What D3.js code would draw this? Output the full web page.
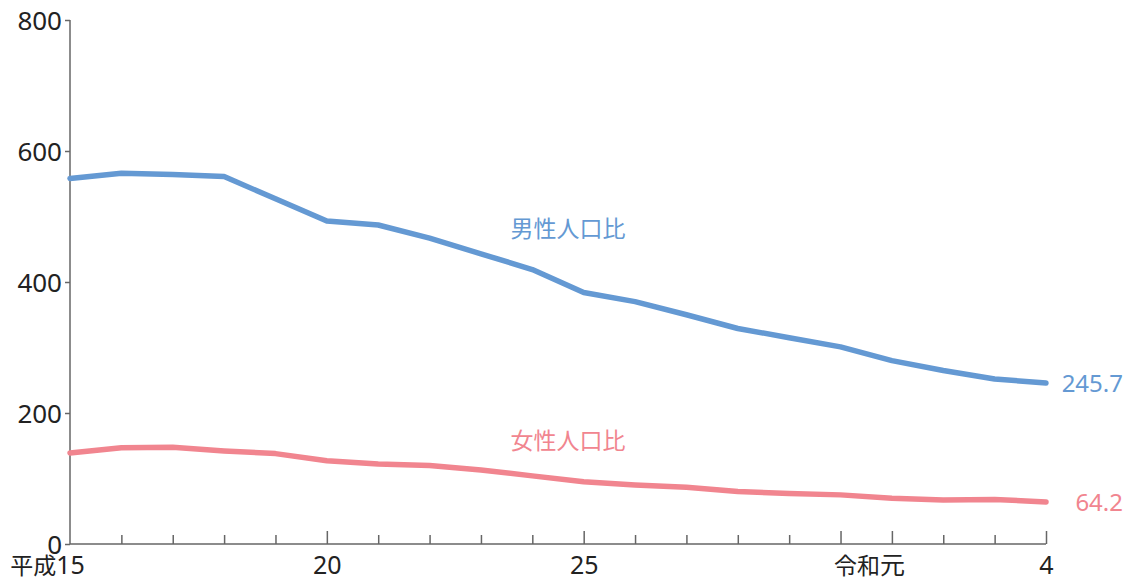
<!DOCTYPE html>
<html lang="ja">
<head>
<meta charset="UTF-8" />
<title>男性・女性人口比の推移</title>
<style>
  body { margin: 0; background: #fff; }
  svg, .axis text { font-family: "Noto Sans", "Noto Sans CJK JP", sans-serif; }
  .axis path, .axis line { stroke: #666; stroke-width: 1.5px; }
  .axis text { fill: #222; font-size: 25px; }
  .y.axis text { font-size: 26px; }
</style>
</head>
<body>
<svg width="1131" height="580"></svg>
<script src="https://cdn.jsdelivr.net/npm/d3@7"></script>
<script>
// 平成15年 〜 令和4年
const years = ["15","16","17","18","19","20","21","22","23","24","25","26","27","28","29","30","元","2","3","4"];
const eraPrefix = { "15": "平成", "元": "令和" };
const labeledYears = ["15", "20", "25", "元", "4"];
const majorTicks = ["20", "25", "30", "元", "4"];
const yTicks = [0, 200, 400, 600, 800];

const male = [558, 566, 564, 561, 527, 493, 487, 467, 443, 419, 384, 370, 350, 329, 315, 301, 280, 265, 252, 245.7];
const female = [139, 147, 147.6, 142, 138, 127, 122, 120, 113, 104, 95, 90, 86.5, 80, 77, 75, 70, 67, 68, 64.2];

const seriesNames = ["男性人口比", "女性人口比"];
const colors = ["#6499d3", "#f1858f"];

const svg = d3.select("svg");
const plotLeft = 70, plotRight = 1046, plotTop = 20, plotBottom = 544;

const x = d3.scalePoint().domain(years).range([plotLeft, plotRight]);
const y = d3.scaleLinear().domain([0, 800]).range([plotBottom, plotTop]);

// y axis
const yAxis = svg.append("g")
  .attr("class", "y axis")
  .attr("transform", `translate(${plotLeft},0)`)
  .call(d3.axisLeft(y).tickValues(yTicks).tickSize(5).tickPadding(3));
yAxis.selectAll(".tick text").attr("dy", "0.36em");
yAxis.select(".domain").attr("d", `M0,${plotTop}V${plotBottom}`);

// x axis (ticks point up)
const xAxis = svg.append("g")
  .attr("class", "x axis")
  .attr("transform", `translate(0,${plotBottom})`)
  .call(d3.axisBottom(x).tickSize(-9).tickSizeOuter(0)
    .tickFormat(d => labeledYears.includes(d) ? d : ""));
xAxis.select(".domain").attr("d", `M${plotLeft},0H${plotRight}`);
xAxis.selectAll(".tick line")
  .attr("y2", d => majorTicks.includes(d) ? -13 : -9)
  .attr("display", d => d === "15" ? "none" : null);
xAxis.selectAll(".tick text").attr("y", 30).attr("dy", 0);

// era prefix to the left of the number
xAxis.selectAll(".tick").each(function (d) {
  if (!eraPrefix[d]) return;
  const t = d3.select(this).select("text");
  const w = t.node().getComputedTextLength();
  d3.select(this).append("text")
    .attr("x", -w / 2)
    .attr("y", 30)
    .attr("text-anchor", "end")
    .attr("fill", "#222")
    .style("font-size", "23px")
    .text(eraPrefix[d]);
});

// lines
const line = d3.line()
  .x((d, i) => x(years[i]))
  .y(d => y(d));

[male, female].forEach((vals, k) => {
  svg.append("path")
    .datum(vals)
    .attr("fill", "none")
    .attr("stroke", colors[k])
    .attr("stroke-width", 5.5)
    .attr("stroke-linecap", "round")
    .attr("stroke-linejoin", "round")
    .attr("d", line);

  svg.append("text")
    .attr("x", 1123)
    .attr("y", y(vals[vals.length - 1]) + 9)
    .attr("text-anchor", "end")
    .attr("fill", colors[k])
    .attr("font-size", 24)
    .text(vals[vals.length - 1].toFixed(1));
});

// series labels
const labelY = [237, 449];
seriesNames.forEach((name, k) => {
  svg.append("text")
    .attr("x", 568)
    .attr("y", labelY[k])
    .attr("text-anchor", "middle")
    .attr("fill", colors[k])
    .attr("font-size", 23)
    .text(name);
});
</script>
</body>
</html>
